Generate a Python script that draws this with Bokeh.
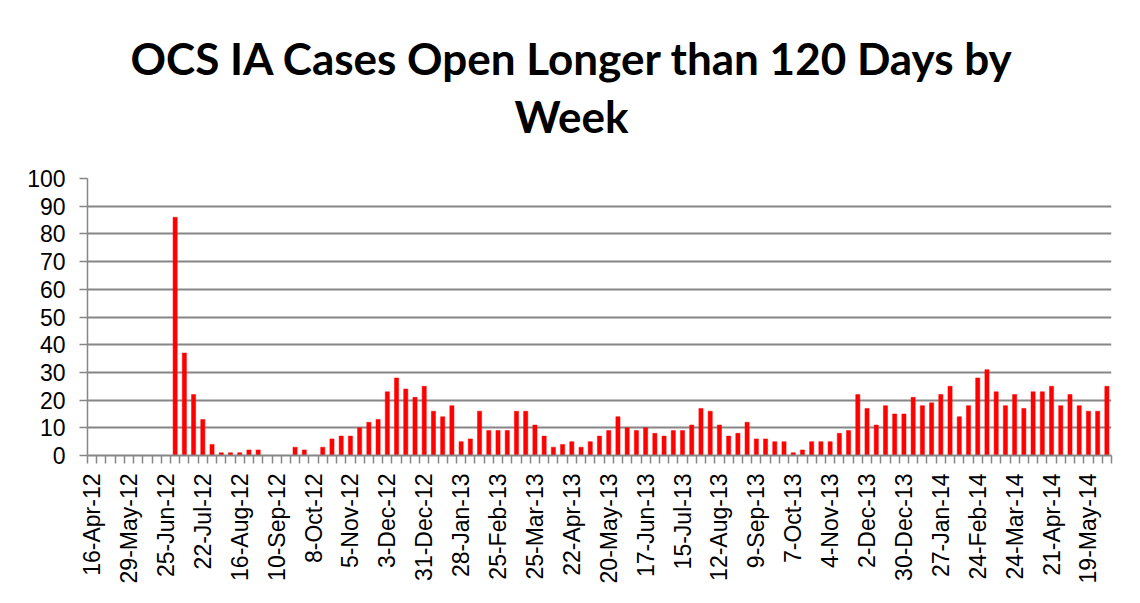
from bokeh.plotting import figure
from bokeh.models import Range1d, FixedTicker, Title
from bokeh.embed import file_html
from bokeh.resources import INLINE

title_line1 = "OCS IA Cases Open Longer than 120 Days by"
title_line2 = "Week"

tick_labels = ["16-Apr-12", "29-May-12", "25-Jun-12", "22-Jul-12", "16-Aug-12",
               "10-Sep-12", "8-Oct-12", "5-Nov-12", "3-Dec-12", "31-Dec-12",
               "28-Jan-13", "25-Feb-13", "25-Mar-13", "22-Apr-13", "20-May-13",
               "17-Jun-13", "15-Jul-13", "12-Aug-13", "9-Sep-13", "7-Oct-13",
               "4-Nov-13", "2-Dec-13", "30-Dec-13", "27-Jan-14", "24-Feb-14",
               "24-Mar-14", "21-Apr-14", "19-May-14"]

values = [0, 0, 0, 0, 0, 0, 0, 0, 0, 86,
          37, 22, 13, 4, 1, 1, 1, 2, 2, 0,
          0, 0, 3, 2, 0, 3, 6, 7, 7, 10,
          12, 13, 23, 28, 24, 21, 25, 16, 14, 18,
          5, 6, 16, 9, 9, 9, 16, 16, 11, 7,
          3, 4, 5, 3, 5, 7, 9, 14, 10, 9,
          10, 8, 7, 9, 9, 11, 17, 16, 11, 7,
          8, 12, 6, 6, 5, 5, 1, 2, 5, 5,
          5, 8, 9, 22, 17, 11, 18, 15, 15, 21,
          18, 19, 22, 25, 14, 18, 28, 31, 23, 18,
          22, 17, 23, 23, 25, 18, 22, 18, 16, 16,
          25]

y_ticks = [0, 10, 20, 30, 40, 50, 60, 70, 80, 90, 100]

n = len(values)
xs = list(range(n))
label_step = 4
label_pos = list(range(0, len(tick_labels) * label_step, label_step))

GRAY = "#868686"

p = figure(width=1140, height=603, output_backend="svg", toolbar_location=None,
           x_range=Range1d(-0.5, n - 0.5), y_range=Range1d(0, 100),
           min_border_left=87, min_border_right=29, min_border_top=178,
           min_border_bottom=148,
           styles={"outline": "1.5px solid #8a8a8a", "outline-offset": "-4px"})
p.outline_line_color = None
p.background_fill_color = "white"
p.border_fill_color = "white"

p.vbar(x=xs, top=values, width=0.45, fill_color="#FF0000", line_color="#FF0000",
       line_width=0.5)

# two-line title: spacer, then the lines stacked outward
spacer = Title(text=" ", text_font_size="1px", standoff=34)
t2 = Title(text=title_line2, align="left", offset=427, text_font="Lato",
           text_font_style="bold", text_font_size="44px", text_color="black",
           standoff=0)
t1 = Title(text=title_line1, align="left", offset=43, text_font="Lato",
           text_font_style="bold", text_font_size="44px", text_color="black",
           standoff=8)
p.add_layout(spacer, "above")
p.add_layout(t2, "above")
p.add_layout(t1, "above")

# y axis
p.yaxis.ticker = FixedTicker(ticks=y_ticks)
p.yaxis.axis_line_color = GRAY
p.yaxis.axis_line_width = 1.5
p.yaxis.major_tick_line_color = GRAY
p.yaxis.major_tick_line_width = 1.5
p.yaxis.major_tick_out = 8
p.yaxis.major_tick_in = 0
p.yaxis.minor_tick_line_color = None
p.yaxis.major_label_text_font = "Liberation Sans"
p.yaxis.major_label_text_font_size = "23px"
p.yaxis.major_label_text_color = "black"
p.yaxis.major_label_standoff = 14

p.ygrid.ticker = FixedTicker(ticks=y_ticks)
p.ygrid.grid_line_color = GRAY
p.ygrid.grid_line_width = 2
p.xgrid.grid_line_color = None

# x axis
boundaries = [i - 0.5 for i in range(n + 1)]
p.xaxis.ticker = FixedTicker(ticks=label_pos, minor_ticks=boundaries)
p.xaxis.major_label_overrides = {pos: lab for pos, lab in zip(label_pos, tick_labels)}
p.xaxis.major_label_orientation = 1.5707963267948966
p.xaxis.axis_line_color = GRAY
p.xaxis.axis_line_width = 2
p.xaxis.major_tick_line_color = None
p.xaxis.minor_tick_line_color = GRAY
p.xaxis.minor_tick_line_width = 1.5
p.xaxis.minor_tick_out = 8
p.xaxis.minor_tick_in = 0
p.xaxis.major_label_text_font = "Liberation Sans"
p.xaxis.major_label_text_font_size = "23px"
p.xaxis.major_label_text_color = "black"
p.xaxis.major_label_standoff = 10

open("out.html", "w").write(file_html(p, INLINE))
